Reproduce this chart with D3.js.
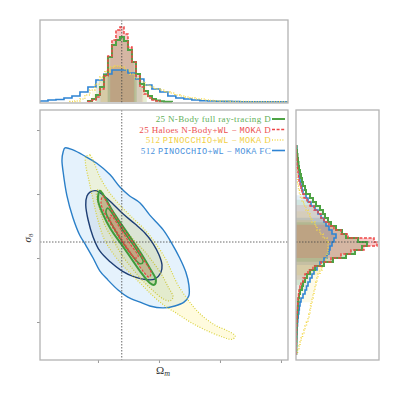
<!DOCTYPE html>
<html>
<head>
<meta charset="utf-8">
<script src="https://cdn.jsdelivr.net/npm/d3@7"></script>
<style>
  body { margin: 0; background: #fff; }
  text { font-family: 'Liberation Serif', 'DejaVu Serif', serif; }
</style>
</head>
<body>
<svg width="399" height="399"></svg>
<script>
// ---- data ----
var omegaTicks = [0.2, 0.3, 0.4, 0.5];
var sigmaTicks = [0.7, 0.8, 0.9, 1.0];
var omegaRange = [0.105, 0.5115];
var sigmaRange = [0.6406, 1.0313];
var fiducialOmega = 0.239;
var fiducialSigma = 0.825;
var densityMax = 82;

var labels = [
  '25 N-Body full ray-tracing D',
  '25 Haloes N-Body+WL \u2212 MOKA D',
  '512 PINOCCHIO+WL \u2212 MOKA D',
  '512 PINOCCHIO+WL \u2212 MOKA FC'
];

// 2D contours (omega_m, sigma_8): outer = 95%, inner = 68%
var greenOuter = [[0.203,0.905],[0.210,0.897],[0.223,0.875],[0.239,0.852],[0.256,0.828],[0.272,0.805],[0.285,0.784],[0.295,0.766],[0.292,0.758],[0.285,0.761],[0.270,0.778],[0.254,0.800],[0.238,0.822],[0.221,0.845],[0.208,0.869],[0.200,0.891]];
var greenInner = [[0.216,0.878],[0.228,0.863],[0.244,0.839],[0.261,0.816],[0.274,0.794],[0.269,0.791],[0.252,0.809],[0.236,0.831],[0.223,0.852],[0.213,0.872]];
var redOuter = [[0.208,0.897],[0.215,0.886],[0.228,0.866],[0.244,0.842],[0.261,0.819],[0.275,0.797],[0.287,0.778],[0.284,0.770],[0.275,0.778],[0.261,0.797],[0.244,0.819],[0.228,0.842],[0.213,0.866],[0.205,0.886]];
var redInner = [[0.221,0.867],[0.236,0.847],[0.252,0.823],[0.266,0.802],[0.261,0.800],[0.246,0.819],[0.231,0.841],[0.220,0.859]];
var yellowOuter = [[0.180,0.958],[0.187,0.961],[0.193,0.950],[0.203,0.927],[0.216,0.906],[0.233,0.886],[0.252,0.867],[0.274,0.847],[0.293,0.825],[0.310,0.800],[0.321,0.778],[0.331,0.758],[0.348,0.734],[0.367,0.713],[0.392,0.695],[0.413,0.686],[0.425,0.678],[0.420,0.673],[0.403,0.677],[0.375,0.688],[0.351,0.700],[0.330,0.713],[0.310,0.725],[0.290,0.741],[0.269,0.761],[0.248,0.781],[0.228,0.803],[0.211,0.828],[0.200,0.859],[0.192,0.891],[0.185,0.922],[0.180,0.945]];
var yellowInner = [[0.198,0.906],[0.205,0.905],[0.213,0.891],[0.225,0.872],[0.239,0.852],[0.256,0.831],[0.274,0.813],[0.290,0.794],[0.305,0.773],[0.315,0.755],[0.323,0.739],[0.318,0.733],[0.307,0.736],[0.289,0.750],[0.272,0.766],[0.256,0.784],[0.239,0.805],[0.225,0.828],[0.211,0.852],[0.203,0.875],[0.198,0.894]];
var blueOuter = [[0.146,0.972],[0.159,0.969],[0.179,0.959],[0.198,0.948],[0.220,0.930],[0.236,0.911],[0.252,0.897],[0.269,0.886],[0.285,0.867],[0.307,0.844],[0.321,0.823],[0.334,0.800],[0.344,0.778],[0.349,0.758],[0.349,0.741],[0.341,0.731],[0.326,0.725],[0.307,0.722],[0.285,0.725],[0.269,0.731],[0.249,0.739],[0.233,0.750],[0.216,0.766],[0.203,0.780],[0.192,0.800],[0.180,0.820],[0.170,0.836],[0.159,0.863],[0.149,0.898],[0.143,0.934],[0.141,0.953],[0.143,0.966]];
var blueInner = [[0.187,0.903],[0.198,0.905],[0.210,0.897],[0.223,0.886],[0.241,0.869],[0.261,0.853],[0.277,0.839],[0.290,0.823],[0.300,0.805],[0.305,0.789],[0.303,0.777],[0.293,0.767],[0.280,0.766],[0.261,0.770],[0.239,0.780],[0.220,0.794],[0.203,0.811],[0.192,0.833],[0.184,0.859],[0.180,0.883],[0.182,0.897]];

// marginal of omega_m: first bin edge, bin width, heights
var greenOmStart = 0.1836, greenOmWidth = 0.00656;
var greenOm = [1,3,7,15,27,45,57,62,65,61,52,40,28,18,11,6,3,1.5,0.8,0.3,0.3];
var redOmStart = 0.1836, redOmWidth = 0.00656;
var redOm = [0.5,2,5,13,26,46,62,72,75,68,55,40,26,15,8,4,2,1];
var yellowOmStart = 0.154, yellowOmWidth = 0.0082;
var yellowOm = [0.5,1,3,7,12,18,25,31,35,36,35,32,28,24,20,17,15,13,12,10,9,7,6,5,4,3,3,2,1.5,1.2,1,1,0.6,0.6,0.6,0.6,0.3,0.3,0.3,0.3,0.3,0.3,0.3,0.3];
var blueOmStart = 0.105, blueOmWidth = 0.0131;
var blueOm = [1,2,2.5,4,6,10,15,22,28,32,32,29,23,17,13,10,6,4,3,2,1.2,1,0.8,0.6,0.5,0.3,0.3,0.3,0.3,0.3,0.3];

// marginal of sigma_8 (bins from low to high sigma_8)
var sigmaStart = 0.65, sigmaWidth = 0.00625;
var greenSig = [0.3,0.3,0.4,0.5,0.5,0.6,0.7,0.8,1,1.2,1.5,1.8,2,2.5,3,4,6,7,9,11,14,19,28,37,50,59,66,71,62,50,46,40,35,32,29,27,24,20,17,14,10,9,7,6,5,4,3,2.5,2,1.5,1,0.5];
var redSig = [0.2,0.2,0.3,0.4,0.4,0.5,0.6,0.7,0.9,1,1.2,1.5,1.8,2,2.5,3,4,5,7,9,12,17,25,35,45,55,68,81,78,52,45,38,33,28,25,22,18,14,11,8,6,5,4,3,2.5,2,1.5,1,0.8,0.5,0.3,0.2];
var yellowSig = [1.5,3,4,5,6.5,8,9,10.5,12,13,14,14.5,15,16,17,18,19,20,21,22,24,26,28,30,31,32,32,32,31,27,24,21,19,16,14,12,10,8,6,4.5,3.5,2.5,2,1.5,1,0.8,0.5,0.4,0.3,0.2,0.1,0.1];
var blueSig = [0.3,0.4,0.5,0.6,0.8,1,1.2,1.5,1.8,2.2,2.8,3.3,4,5,7,9,10.5,12,14,16,18,21,24,28,31,33,34,36,38,40,36,33,30,28,25,22,19,15,12,10,7,6,5,4,3.5,3,2.5,2,1.5,1.2,1,0.8];

// credible intervals [68% lo, 68% hi, 95% lo, 95% hi]
var greenOmCI = [0.216, 0.264, 0.198, 0.280];
var redOmCI = [0.220, 0.259, 0.203, 0.274];
var yellowOmCI = [0.205, 0.262, 0.190, 0.280];
var blueOmCI = [0.216, 0.261, 0.197, 0.272];
var greenSigCI = [0.794, 0.856, 0.758, 0.891];
var redSigCI = [0.800, 0.852, 0.766, 0.883];
var yellowSigCI = [0.773, 0.859, 0.731, 0.873];
var blueSigCI = [0.789, 0.863, 0.750, 0.898];

// ---- drawing ----
var svg = d3.select('svg');

var x = d3.scaleLinear().domain(omegaRange).range([40, 288]);
var y = d3.scaleLinear().domain(sigmaRange).range([360, 110]);
var hTop = d3.scaleLinear().domain([0, densityMax]).range([102, 20]);
var hRight = d3.scaleLinear().domain([0, densityMax]).range([296, 378]);

var series = [
  { name: 'blue', color: '#2e84d4', om: blueOm, omStart: blueOmStart, omWidth: blueOmWidth, sig: blueSig, omCI: blueOmCI, sigCI: blueSigCI, width: 1.6, dash: null },
  { name: 'yellow', color: '#f2d84a', om: yellowOm, omStart: yellowOmStart, omWidth: yellowOmWidth, sig: yellowSig, omCI: yellowOmCI, sigCI: yellowSigCI, width: 1.5, dash: '1,1.6' },
  { name: 'green', color: '#4ea345', om: greenOm, omStart: greenOmStart, omWidth: greenOmWidth, sig: greenSig, omCI: greenOmCI, sigCI: greenSigCI, width: 2, dash: null },
  { name: 'red', color: '#ee4646', om: redOm, omStart: redOmStart, omWidth: redOmWidth, sig: redSig, omCI: redOmCI, sigCI: redSigCI, width: 1.5, dash: '3,1.6' }
];

var defs = svg.append('defs');
function clip(id, x0, y0, w, h) {
  defs.append('clipPath').attr('id', id)
    .append('rect').attr('x', x0).attr('y', y0).attr('width', w).attr('height', h);
}
clip('cMain', 40, 110, 248, 250);
clip('cTop', 40, 20, 248, 83);
clip('cRight', 296, 110, 83, 250);

// step outline of a histogram, optionally cut to [lo, hi]
function steps(start, width, heights, lo, hi) {
  var end = start + width * heights.length;
  lo = lo == null ? start : Math.max(lo, start);
  hi = hi == null ? end : Math.min(hi, end);
  var pts = [[lo, 0]];
  heights.forEach(function (h, i) {
    var a = start + i * width, b = a + width;
    if (b <= lo || a >= hi) return;
    pts.push([Math.max(a, lo), h]);
    pts.push([Math.min(b, hi), h]);
  });
  pts.push([hi, 0]);
  return pts;
}

var topLine = d3.line().x(function (d) { return x(d[0]); }).y(function (d) { return hTop(d[1]); });
var rightLine = d3.line().x(function (d) { return hRight(d[1]); }).y(function (d) { return y(d[0]); });

// top marginal
var gTop = svg.append('g').attr('clip-path', 'url(#cTop)');
series.forEach(function (s) {
  gTop.append('path').attr('d', topLine(steps(s.omStart, s.omWidth, s.om, s.omCI[2], s.omCI[3])))
    .attr('fill', s.color).attr('fill-opacity', 0.13);
  gTop.append('path').attr('d', topLine(steps(s.omStart, s.omWidth, s.om, s.omCI[0], s.omCI[1])))
    .attr('fill', s.color).attr('fill-opacity', 0.18);
});
series.forEach(function (s) {
  gTop.append('path').attr('d', topLine(steps(s.omStart, s.omWidth, s.om)))
    .attr('fill', 'none').attr('stroke', s.color).attr('stroke-width', s.width)
    .attr('stroke-dasharray', s.dash).attr('stroke-linejoin', 'miter');
});
gTop.append('line').attr('x1', x(fiducialOmega)).attr('x2', x(fiducialOmega))
  .attr('y1', 20).attr('y2', 103).attr('stroke', '#444').attr('stroke-width', 0.8)
  .attr('stroke-dasharray', '1.5,1.5');

// right marginal
var gRight = svg.append('g').attr('clip-path', 'url(#cRight)');
series.forEach(function (s) {
  gRight.append('path').attr('d', rightLine(steps(sigmaStart, sigmaWidth, s.sig, s.sigCI[2], s.sigCI[3])))
    .attr('fill', s.color).attr('fill-opacity', 0.13);
  gRight.append('path').attr('d', rightLine(steps(sigmaStart, sigmaWidth, s.sig, s.sigCI[0], s.sigCI[1])))
    .attr('fill', s.color).attr('fill-opacity', 0.18);
});
series.forEach(function (s) {
  gRight.append('path').attr('d', rightLine(steps(sigmaStart, sigmaWidth, s.sig)))
    .attr('fill', 'none').attr('stroke', s.color).attr('stroke-width', s.width)
    .attr('stroke-dasharray', s.dash);
});
gRight.append('line').attr('y1', y(fiducialSigma)).attr('y2', y(fiducialSigma))
  .attr('x1', 296).attr('x2', 379).attr('stroke', '#444').attr('stroke-width', 0.8)
  .attr('stroke-dasharray', '1.5,1.5');

// main panel contours
var gMain = svg.append('g').attr('clip-path', 'url(#cMain)');
var contour = d3.line()
  .x(function (d) { return x(d[0]); })
  .y(function (d) { return y(d[1]); })
  .curve(d3.curveCatmullRomClosed.alpha(0.5));

var fills = [
  [blueOuter, '#9fcff5', 0.27],
  [yellowOuter, '#fff07a', 0.25],
  [blueInner, '#2b4c7e', 0.08],
  [yellowInner, '#b8cc80', 0.16],
  [greenOuter, '#6ab04c', 0.25],
  [redOuter, '#d86a50', 0.28],
  [redInner, '#c86a50', 0.22]
];
fills.forEach(function (f) {
  gMain.append('path').attr('d', contour(f[0])).attr('fill', f[1]).attr('fill-opacity', f[2]);
});

var strokes = [
  [blueOuter, '#2a7fc8', 1.4, null],
  [blueInner, '#1d3e74', 1.4, null],
  [yellowOuter, '#d9d23e', 1.2, '1,1.6'],
  [yellowInner, '#c9c43a', 1.2, '1,1.6'],
  [greenOuter, '#3f9a3c', 2, null],
  [greenInner, '#3f9a3c', 1.6, null],
  [redOuter, '#e84444', 1.2, '2.5,1.5'],
  [redInner, '#e84444', 1.1, '2.5,1.5']
];
strokes.forEach(function (s) {
  gMain.append('path').attr('d', contour(s[0])).attr('fill', 'none')
    .attr('stroke', s[1]).attr('stroke-width', s[2]).attr('stroke-dasharray', s[3]);
});

gMain.append('line').attr('x1', x(fiducialOmega)).attr('x2', x(fiducialOmega))
  .attr('y1', 110).attr('y2', 360).attr('stroke', '#444').attr('stroke-width', 0.8)
  .attr('stroke-dasharray', '1.5,1.5');
gMain.append('line').attr('y1', y(fiducialSigma)).attr('y2', y(fiducialSigma))
  .attr('x1', 40).attr('x2', 288).attr('stroke', '#444').attr('stroke-width', 0.8)
  .attr('stroke-dasharray', '1.5,1.5');

// ticks (no labels)
var xAxis = svg.append('g').attr('transform', 'translate(0,360)')
  .call(d3.axisBottom(x).tickValues(omegaTicks).tickSize(3).tickFormat(''));
var yAxis = svg.append('g').attr('transform', 'translate(40,0)')
  .call(d3.axisLeft(y).tickValues(sigmaTicks).tickSize(3).tickFormat(''));
[xAxis, yAxis].forEach(function (a) {
  a.select('.domain').remove();
  a.selectAll('line').attr('stroke', '#999');
});

// frames
[[40, 110, 248, 250], [40, 20, 248, 83], [296, 110, 83, 250]].forEach(function (r) {
  svg.append('rect').attr('x', r[0]).attr('y', r[1]).attr('width', r[2]).attr('height', r[3])
    .attr('fill', 'none').attr('stroke', '#b3b3b3').attr('stroke-width', 1.3);
});

// legend
var legendColors = ['#5fb05a', '#ec5050', '#f2cf45', '#4a90dc'];
var legendLines = [['#4ea345', 2, null], ['#ee4646', 1.5, '3,1.6'], ['#f2d84a', 1.5, '1,1.6'], ['#2e84d4', 1.6, null]];
labels.forEach(function (lab, i) {
  var cy = 119 + i * 10.5;
  var t = svg.append('text').attr('x', 271).attr('y', cy + 3.2)
    .attr('text-anchor', 'end').attr('font-size', 9).attr('fill', legendColors[i])
    .attr('letter-spacing', 0.35);
  lab.split(/(PINOCCHIO|WL|MOKA)/).forEach(function (part) {
    if (!part) return;
    var mono = /^(PINOCCHIO|WL|MOKA)$/.test(part);
    t.append('tspan').text(part)
      .style('font-family', mono ? "'Liberation Mono', 'DejaVu Sans Mono', monospace" : null)
      .attr('font-size', mono ? 8.6 : 9)
      .attr('xml:space', 'preserve');
  });
  svg.append('line').attr('x1', 272).attr('x2', 285).attr('y1', cy).attr('y2', cy)
    .attr('stroke', legendLines[i][0]).attr('stroke-width', legendLines[i][1])
    .attr('stroke-dasharray', legendLines[i][2]);
});

// axis labels
var xl = svg.append('text').attr('x', 163).attr('y', 374).attr('text-anchor', 'middle')
  .attr('font-size', 11).attr('fill', '#333');
xl.append('tspan').text('\u03a9');
xl.append('tspan').text('m').attr('font-size', 8).attr('font-style', 'italic').attr('dy', 2);

var yl = svg.append('text').attr('transform', 'translate(31,238) rotate(-90)')
  .attr('text-anchor', 'middle').attr('font-size', 11).attr('fill', '#333');
yl.append('tspan').text('\u03c3').attr('font-style', 'italic');
yl.append('tspan').text('8').attr('font-size', 7).attr('dy', 2);
</script>
</body>
</html>
